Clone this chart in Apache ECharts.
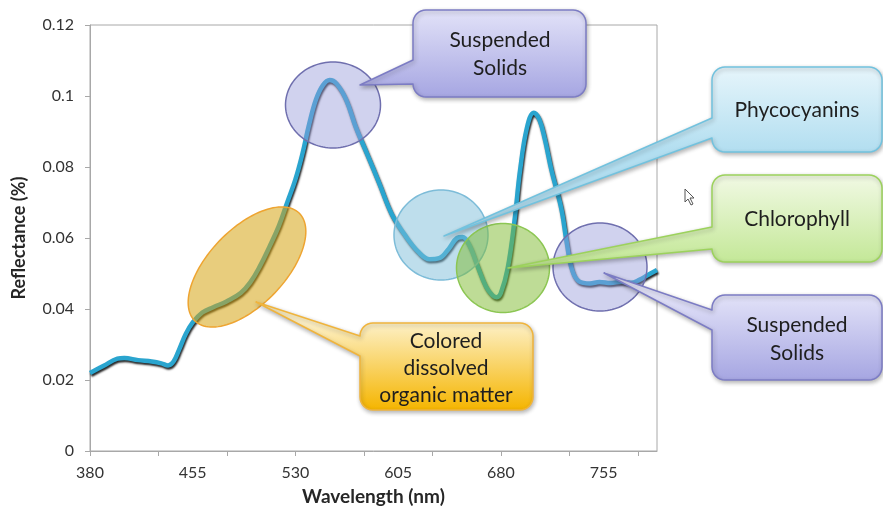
<!DOCTYPE html>
<html>
<head>
<meta charset="utf-8">
<script src="https://cdn.jsdelivr.net/npm/echarts@6/dist/echarts.min.js"></script>
<style>
  html, body { margin: 0; padding: 0; background: #fff; }
  #chart { width: 883px; height: 511px; }
</style>
</head>
<body>
<div id="chart"></div>
<script>
// Water reflectance spectrum
const wavelengths = [380, 390, 400, 405, 415, 425, 432, 437, 441, 445, 450, 455, 462, 470, 480, 490, 497, 504, 511, 518,
  524, 530, 535, 540, 545, 550, 555, 560, 567, 574, 582, 591, 600, 610, 620, 628, 635, 642, 648, 652,
  657, 662, 669, 674, 677, 680, 685, 690, 694, 699, 704, 708, 712, 717, 724, 728, 732, 737, 745, 752,
  760, 768, 775, 781, 787, 794];
const reflectance = [0.0220, 0.0240, 0.0260, 0.0262, 0.0256, 0.0252, 0.0247, 0.0241, 0.0252, 0.0285, 0.0330, 0.0362, 0.0390, 0.0405, 0.0422, 0.0445, 0.0475, 0.0520, 0.0575, 0.0635,
  0.0700, 0.0765, 0.0835, 0.0920, 0.0990, 0.1030, 0.1045, 0.1035, 0.0990, 0.0913, 0.0840, 0.0756, 0.0670, 0.0608, 0.0560, 0.0540, 0.0543, 0.0570, 0.0600, 0.0603,
  0.0580, 0.0531, 0.0464, 0.0438, 0.0433, 0.0445, 0.0515, 0.0650, 0.0790, 0.0910, 0.0953, 0.0935, 0.0880, 0.0790, 0.0685, 0.0590, 0.0510, 0.0478, 0.0472, 0.0476,
  0.0473, 0.0477, 0.0474, 0.0482, 0.0495, 0.0510];

const xLabelValues = [380, 455, 530, 605, 680, 755];
const xTickValues = [380, 430, 480, 530, 580, 630, 680, 730, 780];
const xRange = [380, 794];
const yRange = [0, 0.12];
const yStep = 0.02;

const xTitle = 'Wavelength (nm)';
const yTitle = 'Reflectance (%)';

// Annotation texts
const labelSuspended = ['Suspended', 'Solids'];
const labelPhyco = ['Phycocyanins'];
const labelChloro = ['Chlorophyll'];
const labelCdom = ['Colored', 'dissolved', 'organic matter'];

const FONT = 'Lato, "Open Sans", sans-serif';

function ellipsePoints(cx, cy, a, b, deg) {
  const th = deg * Math.PI / 180;
  const pts = [];
  for (let i = 0; i < 120; i++) {
    const t = i / 120 * Math.PI * 2;
    const ex = a * Math.cos(t), ey = b * Math.sin(t);
    pts.push([cx + ex * Math.cos(th) - ey * Math.sin(th), cy - (ex * Math.sin(th) + ey * Math.cos(th))]);
  }
  return pts;
}

// quarter-circle corner from angle a0 to a1 (degrees, screen coordinates)
function corner(pts, cx, cy, r, a0, a1) {
  for (let i = 0; i <= 8; i++) {
    const a = (a0 + (a1 - a0) * i / 8) * Math.PI / 180;
    pts.push([cx + r * Math.cos(a), cy + r * Math.sin(a)]);
  }
}

// rounded box with a pointer wedge leaving its left side
function calloutPoints(c) {
  const x = c.x, y = c.y, w = c.w, h = c.h, r = c.r;
  const pts = [];
  corner(pts, x + r, y + r, r, 180, 270);
  corner(pts, x + w - r, y + r, r, 270, 360);
  corner(pts, x + w - r, y + h - r, r, 0, 90);
  corner(pts, x + r, y + h - r, r, 90, 180);
  pts.push([x, c.base[1]]);
  pts.push([c.tip[0], c.tip[1]]);
  pts.push([x, c.base[0]]);
  return pts;
}

const themes = {
  lavender: { ell: 'rgba(151,155,217,0.45)', ellStroke: '#6f6fae', top: '#e2e2f8', bottom: '#a6a6e2', stroke: '#7c7cc4' },
  blue: { ell: 'rgba(125,189,217,0.5)', ellStroke: '#7dbcd8', top: '#e6f5fb', bottom: '#b2def0', stroke: '#72c2de' },
  green: { ell: 'rgba(125,185,45,0.5)', ellStroke: '#8cc653', top: '#f1f9e4', bottom: '#c4e898', stroke: '#9cd25c' },
  gold: { ell: 'rgba(213,164,19,0.55)', ellStroke: '#eea431', top: '#fdf0c6', bottom: '#f5b500', stroke: '#f0b43c' }
};

const ellipses = [
  { cx: 247, cy: 267, a: 75, b: 38, deg: 46, theme: 'gold' },
  { cx: 333, cy: 105, a: 47.5, b: 43, deg: 0, theme: 'lavender' },
  { cx: 441, cy: 235, a: 47, b: 45, deg: 0, theme: 'blue' },
  { cx: 503, cy: 268, a: 46.5, b: 44.5, deg: 0, theme: 'green' },
  { cx: 600, cy: 267, a: 47, b: 44, deg: 0, theme: 'lavender' }
];

const callouts = [
  { x: 413, y: 10, w: 173, h: 87, r: 13, base: [60, 84], tip: [360, 85], theme: 'lavender', lines: labelSuspended, cx: 500, cy: 54, lh: 28 },
  { x: 712, y: 67, w: 170, h: 85, r: 13, base: [118, 138], tip: [444, 236], theme: 'blue', lines: labelPhyco, cx: 797, cy: 110, lh: 28 },
  { x: 712, y: 175, w: 170, h: 87, r: 13, base: [227, 249], tip: [508, 268], theme: 'green', lines: labelChloro, cx: 797, cy: 219, lh: 28 },
  { x: 712, y: 295, w: 170, h: 85, r: 13, base: [310, 330], tip: [604, 273], theme: 'lavender', lines: labelSuspended, cx: 797, cy: 339, lh: 28 },
  { x: 360, y: 323, w: 173, h: 87, r: 13, base: [336, 356], tip: [256, 302], theme: 'gold', lines: labelCdom, cx: 446, cy: 368, lh: 27 }
];

const graphics = [];
ellipses.forEach(function (e, i) {
  const t = themes[e.theme];
  graphics.push({
    type: 'polygon', z: 20 + i, silent: true,
    shape: { points: ellipsePoints(e.cx, e.cy, e.a, e.b, e.deg) },
    style: { fill: t.ell, stroke: t.ellStroke, lineWidth: 1.5 }
  });
});
callouts.forEach(function (c, i) {
  const t = themes[c.theme];
  graphics.push({
    type: 'polygon', z: 40 + i, silent: true,
    shape: { points: calloutPoints(c) },
    style: {
      fill: new echarts.graphic.LinearGradient(0, c.y, 0, c.y + c.h, [
        { offset: 0, color: t.top }, { offset: 1, color: t.bottom }
      ], true),
      stroke: t.stroke, lineWidth: 1.5, lineJoin: 'round',
      shadowBlur: 4, shadowColor: 'rgba(0,0,0,0.28)', shadowOffsetX: 1, shadowOffsetY: 2
    }
  });
  graphics.push({
    type: 'text', z: 60 + i, silent: true,
    style: {
      text: c.lines.join('\n'), x: c.cx, y: c.cy,
      align: 'center', verticalAlign: 'middle',
      font: '21px ' + FONT, lineHeight: c.lh, fill: '#1e1e1e'
    }
  });
});
// mouse pointer
graphics.push({
  type: 'polygon', z: 80, silent: true,
  shape: { points: [[685, 189], [685, 202], [688, 199], [691, 205], [693, 204], [690, 198], [694, 198]] },
  style: { fill: '#ffffff', stroke: '#555', lineWidth: 1 }
});

const chart = echarts.init(document.getElementById('chart'), null, { renderer: 'canvas' });
chart.setOption({
  animation: false,
  backgroundColor: '#ffffff',
  grid: {
    left: 90, right: 226, top: 25, bottom: 59,
    show: true, borderColor: '#a8a8a8', borderWidth: 1, backgroundColor: 'transparent'
  },
  xAxis: {
    type: 'value', min: xRange[0], max: xRange[1],
    name: xTitle, nameLocation: 'middle', nameGap: 36,
    nameTextStyle: { fontFamily: FONT, fontSize: 19, fontWeight: 'bold', color: '#262626' },
    axisLine: { show: true, lineStyle: { color: '#a8a8a8' } },
    axisTick: { show: true, length: 5, customValues: xTickValues, lineStyle: { color: '#a8a8a8' } },
    axisLabel: { customValues: xLabelValues, margin: 14, fontFamily: FONT, fontSize: 16, color: '#333333' },
    splitLine: { show: false }
  },
  yAxis: {
    type: 'value', min: yRange[0], max: yRange[1], interval: yStep,
    name: yTitle, nameLocation: 'middle', nameGap: 62, nameRotate: 90,
    nameTextStyle: { fontFamily: FONT, fontSize: 18, fontWeight: 'bold', color: '#262626' },
    axisLine: { show: true, lineStyle: { color: '#a8a8a8' } },
    axisTick: { show: true, length: 5, lineStyle: { color: '#a8a8a8' } },
    axisLabel: {
      margin: 16, fontFamily: FONT, fontSize: 16, color: '#333333',
      formatter: function (v) { return String(parseFloat(v.toFixed(2))); }
    },
    splitLine: { show: false }
  },
  series: [{
    type: 'line',
    data: wavelengths.map(function (w, i) { return [w, reflectance[i]]; }),
    smooth: 0.4,
    showSymbol: false,
    z: 5,
    lineStyle: {
      color: '#2aa5cf', width: 4.5,
      shadowColor: 'rgba(0,0,0,0.85)', shadowBlur: 2, shadowOffsetX: 1, shadowOffsetY: 2
    }
  }],
  graphic: { elements: graphics }
});
</script>
</body>
</html>
